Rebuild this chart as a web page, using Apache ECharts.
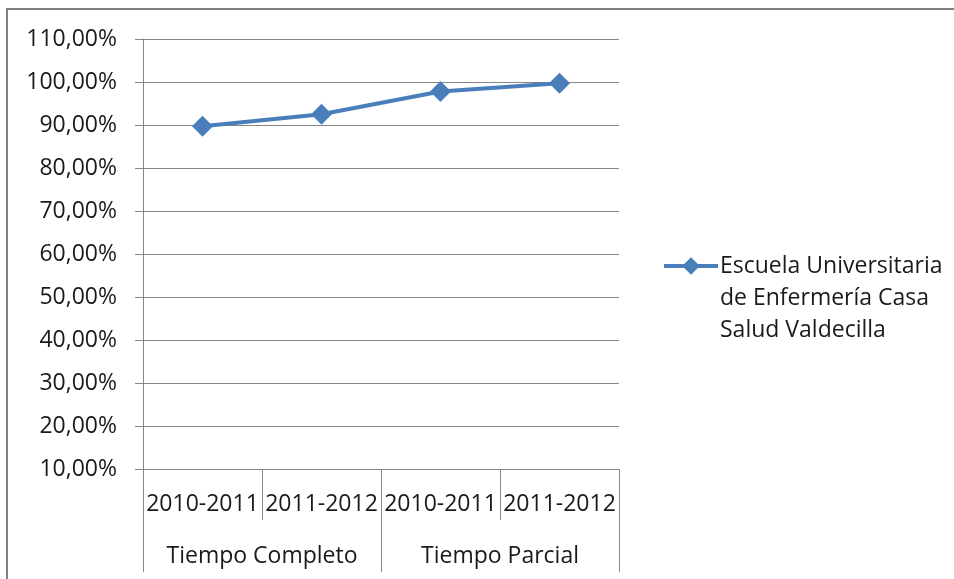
<!DOCTYPE html>
<html>
<head>
<meta charset="utf-8">
<script src="https://cdn.jsdelivr.net/npm/echarts@6/dist/echarts.min.js"></script>
<style>
  html, body { margin: 0; padding: 0; background: #fff; }
  #chart { width: 954px; height: 579px; }
</style>
</head>
<body>
<div id="chart"></div>
<script>
const years = ['2010-2011', '2011-2012', '2010-2011', '2011-2012']
const groups = ['Tiempo Completo', 'Tiempo Parcial']
const seriesName = 'Escuela Universitaria\nde Enfermería Casa\nSalud Valdecilla'
const values = [89.7, 92.5, 97.8, 99.7]

const font = '"Open Sans", sans-serif'
const gray = '#868686'
const textColor = '#1a1a1a'
const blue = '#4a7ebb'

const chart = echarts.init(document.getElementById('chart'))

chart.setOption({
  animation: false,
  graphic: [
    {
      type: 'rect',
      shape: { x: 7, y: 9, width: 960, height: 600 },
      style: { fill: 'none', stroke: '#808080', lineWidth: 2 },
      silent: true,
    },
  ],
  legend: {
    left: 657,
    top: 181,
    orient: 'vertical',
    itemWidth: 54,
    itemHeight: 22,
    itemGap: 0,
    data: [seriesName],
    // empty lines on top so the marker sits on the first line of the name
    formatter: (name) => '\n\n' + name,
    lineStyle: { width: 4 },
    textStyle: {
      fontFamily: font,
      fontSize: 23,
      lineHeight: 32,
      color: textColor,
      padding: [0, 0, 0, -3],
    },
  },
  grid: {
    left: 143,
    right: 335,
    top: 39,
    bottom: 110,
  },
  xAxis: [
    {
      type: 'category',
      data: years,
      position: 'bottom',
      axisLine: { lineStyle: { color: gray, width: 1 } },
      axisTick: { show: true, length: 51, lineStyle: { color: gray } },
      axisLabel: {
        color: textColor,
        fontFamily: font,
        fontSize: 23,
        margin: 24,
        interval: 0,
      },
    },
    {
      type: 'category',
      data: groups,
      position: 'bottom',
      axisLine: { show: false },
      axisTick: { show: true, length: 103, lineStyle: { color: gray } },
      axisLabel: {
        color: textColor,
        fontFamily: font,
        fontSize: 23,
        margin: 76,
        interval: 0,
      },
    },
  ],
  yAxis: {
    type: 'value',
    min: 10,
    max: 110,
    interval: 10,
    axisLine: { show: true, lineStyle: { color: gray } },
    axisTick: { show: true, length: 8, lineStyle: { color: gray } },
    splitLine: { lineStyle: { color: gray, width: 1 } },
    axisLabel: {
      color: textColor,
      fontFamily: font,
      fontSize: 23,
      margin: 26,
      formatter: (v) => v.toFixed(2).replace('.', ',') + '%',
    },
  },
  series: [
    {
      name: seriesName,
      type: 'line',
      data: values,
      symbol: 'diamond',
      symbolSize: 21,
      lineStyle: { color: blue, width: 4 },
      itemStyle: { color: blue },
    },
  ],
})
</script>
</body>
</html>
